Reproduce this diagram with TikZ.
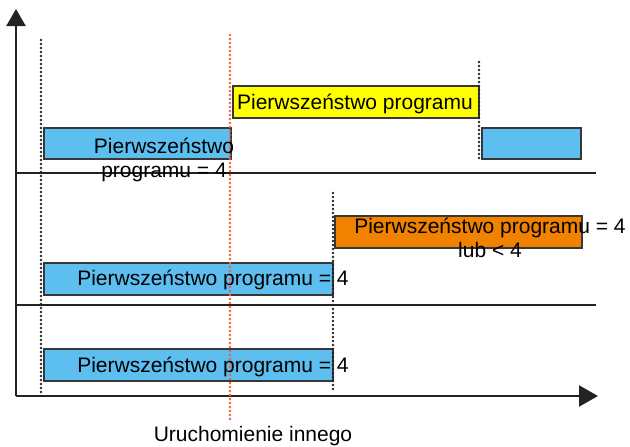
\documentclass[tikz,border=0pt]{standalone}
\usepackage{fontspec}
\setmainfont{Liberation Sans}
\usetikzlibrary{arrows.meta}
\definecolor{barblue}{RGB}{93,190,240}
\definecolor{baryellow}{RGB}{255,255,0}
\definecolor{barorange}{RGB}{240,130,0}
\definecolor{edgegray}{RGB}{55,55,55}
\definecolor{axisgray}{RGB}{35,35,35}
\definecolor{reddot}{RGB}{240,95,55}
\tikzset{
  bar/.style={draw=edgegray, line width=1.6pt, anchor=north west, inner sep=0pt},
  axisline/.style={draw=axisgray, line width=2.2pt},
  sepline/.style={draw=axisgray, line width=2pt},
  blackdot/.style={fill=black!85},
  reddotstyle/.style={fill=reddot},
  lbl/.style={font=\fontsize{21}{24}\selectfont, inner sep=0pt, text=black},
}
\begin{document}
\begin{tikzpicture}[x=1pt,y=-1pt]
\useasboundingbox (0,0) rectangle (630,447);
% axes
\coordinate (origin) at (16,396);
\coordinate (ytop) at (16,9);
\coordinate (xend) at (598,396);
\draw[axisline, -{Triangle[length=17pt,width=19pt]}] (origin) -- (ytop);
\draw[axisline, -{Triangle[length=19pt,width=21pt]}] (origin) -- (xend);
% separators
\coordinate (s1a) at (16,173); \coordinate (s1b) at (596,173);
\coordinate (s2a) at (16,305); \coordinate (s2b) at (596,305);
\draw[sepline] (s1a) -- (s1b);
\draw[sepline] (s2a) -- (s2b);
% bars
\node[bar, fill=barblue, minimum width=187pt, minimum height=31pt] (b1) at (43,127) {};
\node[bar, fill=baryellow, minimum width=246pt, minimum height=32pt] (y1) at (232,85) {};
\node[bar, fill=barblue, minimum width=99pt, minimum height=31pt] (b2) at (481,127) {};
\node[bar, fill=barorange, minimum width=247pt, minimum height=32pt] (o1) at (334,215) {};
\node[bar, fill=barblue, minimum width=289pt, minimum height=32pt] (b3) at (43,262) {};
\node[bar, fill=barblue, minimum width=289pt, minimum height=32pt] (b4) at (43,348) {};
% dotted markers
\foreach \yy in {40,44,...,392} \fill[blackdot] (41,\yy) circle (1.3pt);
\foreach \yy in {193,197,...,392} \fill[blackdot] (333,\yy) circle (1.3pt);
\foreach \yy in {62,66,...,160} \fill[blackdot] (479,\yy) circle (1.3pt);
\foreach \yy in {35,39,...,422} \fill[reddotstyle] (230,\yy) circle (1.3pt);
% labels
\node[lbl, align=center, anchor=center] (t1) at (164,160) {Pierwszeństwo\\programu = 4};
\node[lbl, anchor=base] (t2) at (355,109) {Pierwszeństwo programu};
\node[lbl, align=center, anchor=center] (t3) at (490,238) {Pierwszeństwo programu = 4\\lub < 4};
\node[lbl, anchor=base] (t4) at (213,285) {Pierwszeństwo programu = 4};
\node[lbl, anchor=base] (t5) at (213,372) {Pierwszeństwo programu = 4};
\node[lbl, anchor=base] (t6) at (253,441) {Uruchomienie innego};
\end{tikzpicture}
\end{document}
